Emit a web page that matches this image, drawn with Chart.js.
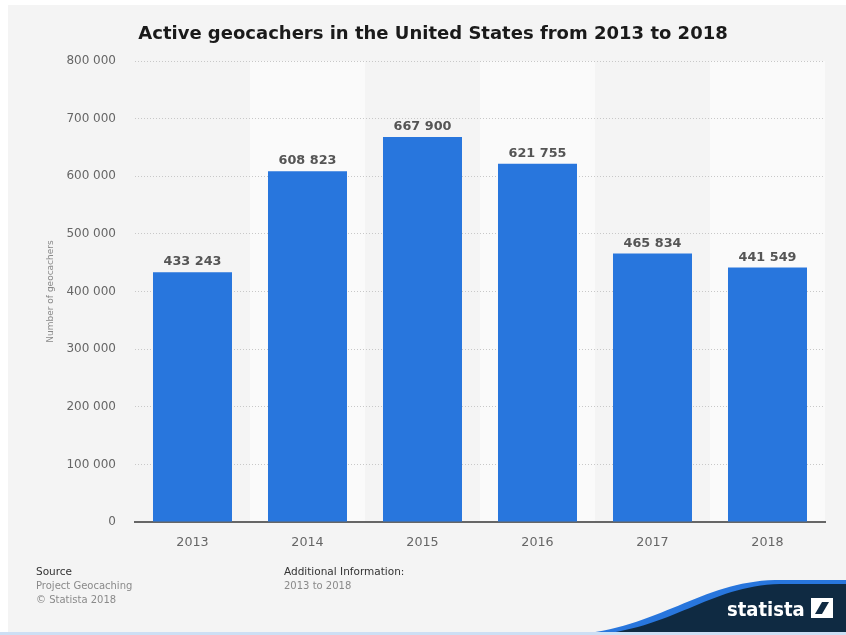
<!DOCTYPE html>
<html>
<head>
<meta charset="utf-8">
<script src="https://cdn.jsdelivr.net/npm/chart.js@4.4.1/dist/chart.umd.min.js"></script>
<style>
  html, body { margin: 0; padding: 0; background: #ffffff; }
  #wrap { width: 846px; height: 635px; position: relative; }
</style>
</head>
<body>
<div id="wrap"><canvas id="geoChart" width="846" height="635"></canvas></div>
<script>
const years = ['2013', '2014', '2015', '2016', '2017', '2018'];
const geocachers = [433243, 608823, 667900, 621755, 465834, 441549];
const yTicks = [0, 100000, 200000, 300000, 400000, 500000, 600000, 700000, 800000];

const chartTitle = 'Active geocachers in the United States from 2013 to 2018';
const yTitle = 'Number of geocachers';

// 608823 -> "608 823"
function spaced(n) {
  return String(n).replace(/\B(?=(\d{3})+(?!\d))/g, ' ');
}

// page background, alternating column stripes, title and footer
const backdrop = {
  id: 'backdrop',
  beforeDraw(chart) {
    const { ctx, chartArea: a } = chart;
    ctx.save();
    ctx.fillStyle = '#ffffff';
    ctx.fillRect(0, 0, chart.width, chart.height);
    ctx.fillStyle = '#f4f4f4';
    ctx.fillRect(8, 5, chart.width - 8, chart.height - 5);

    const step = (a.right - a.left) / years.length;
    ctx.fillStyle = '#fafafa';
    years.forEach((y, i) => {
      if (i % 2 === 1) ctx.fillRect(a.left + i * step, a.top, step, a.bottom - a.top);
    });

    ctx.fillStyle = '#1a1a1a';
    ctx.font = 'bold 18px "DejaVu Sans"';
    ctx.textAlign = 'center';
    ctx.textBaseline = 'middle';
    ctx.fillText(chartTitle, 433, 34);

    ctx.textAlign = 'left';
    ctx.font = '10.5px "DejaVu Sans"';
    ctx.fillStyle = '#333333';
    ctx.fillText('Source', 36, 572);
    ctx.fillText('Additional Information:', 284, 572);
    ctx.font = '10px "DejaVu Sans"';
    ctx.fillStyle = '#8a8a8a';
    ctx.fillText('Project Geocaching', 36, 586);
    ctx.fillText('\u00A9 Statista 2018', 36, 600);
    ctx.fillText('2013 to 2018', 284, 586);

    // logo swoosh
    ctx.fillStyle = '#2876dd';
    ctx.beginPath();
    ctx.moveTo(572, 635);
    ctx.bezierCurveTo(660, 628, 700, 582, 775, 580);
    ctx.lineTo(846, 580);
    ctx.lineTo(846, 635);
    ctx.closePath();
    ctx.fill();
    ctx.fillStyle = '#0f2a42';
    ctx.beginPath();
    ctx.moveTo(590, 635);
    ctx.bezierCurveTo(672, 630, 708, 586, 780, 584);
    ctx.lineTo(846, 584);
    ctx.lineTo(846, 635);
    ctx.closePath();
    ctx.fill();

    ctx.fillStyle = '#ffffff';
    ctx.font = 'bold 20px "DejaVu Sans Condensed", "Liberation Sans Narrow", sans-serif';
    ctx.textBaseline = 'alphabetic';
    ctx.fillText('statista', 727, 616);
    ctx.fillRect(811, 598, 22, 20);
    ctx.fillStyle = '#0f2a42';
    ctx.beginPath();
    ctx.moveTo(815, 614);
    ctx.lineTo(822, 614);
    ctx.lineTo(829, 602);
    ctx.lineTo(822, 602);
    ctx.closePath();
    ctx.fill();

    ctx.fillStyle = '#cddff4';
    ctx.fillRect(0, 632, chart.width, 3);
    ctx.restore();
  }
};

// value above each bar
const barValues = {
  id: 'barValues',
  afterDatasetsDraw(chart) {
    const { ctx } = chart;
    const meta = chart.getDatasetMeta(0);
    ctx.save();
    ctx.fillStyle = '#555555';
    ctx.font = 'bold 12.8px "DejaVu Sans"';
    ctx.textAlign = 'center';
    ctx.textBaseline = 'alphabetic';
    meta.data.forEach((bar, i) => {
      ctx.fillText(spaced(geocachers[i]), bar.x, bar.y - 7);
    });
    ctx.restore();
  }
};

new Chart(document.getElementById('geoChart'), {
  type: 'bar',
  data: {
    labels: years,
    datasets: [{
      data: geocachers,
      backgroundColor: '#2876dd',
      borderWidth: 0,
      barPercentage: 0.687,
      categoryPercentage: 1
    }]
  },
  options: {
    responsive: false,
    animation: false,
    layout: { padding: { left: 8, right: 21, top: 61, bottom: 0 } },
    plugins: {
      legend: { display: false },
      title: { display: false },
      tooltip: { enabled: false }
    },
    scales: {
      x: {
        grid: { display: false, drawTicks: false },
        border: { display: true, color: '#666666', width: 2 },
        ticks: {
          color: '#666666',
          padding: 13,
          font: { family: 'DejaVu Sans', size: 12.7 }
        },
        afterFit(scale) { scale.height = 113; }
      },
      y: {
        min: 0,
        max: 800000,
        afterBuildTicks(scale) {
          scale.ticks = yTicks.map(v => ({ value: v }));
        },
        grid: {
          color: '#c8c8c8',
          lineWidth: 1,
          drawTicks: false
        },
        border: { display: false, dash: [1, 2] },
        ticks: {
          color: '#666666',
          padding: 19,
          font: { family: 'DejaVu Sans', size: 12 },
          callback: v => spaced(v)
        },
        title: {
          display: true,
          text: yTitle,
          color: '#888888',
          padding: { top: 37, bottom: 0 },
          font: { family: 'DejaVu Sans', size: 9 }
        },
        afterFit(scale) { scale.width = 127; }
      }
    }
  },
  plugins: [backdrop, barValues]
});
</script>
</body>
</html>
